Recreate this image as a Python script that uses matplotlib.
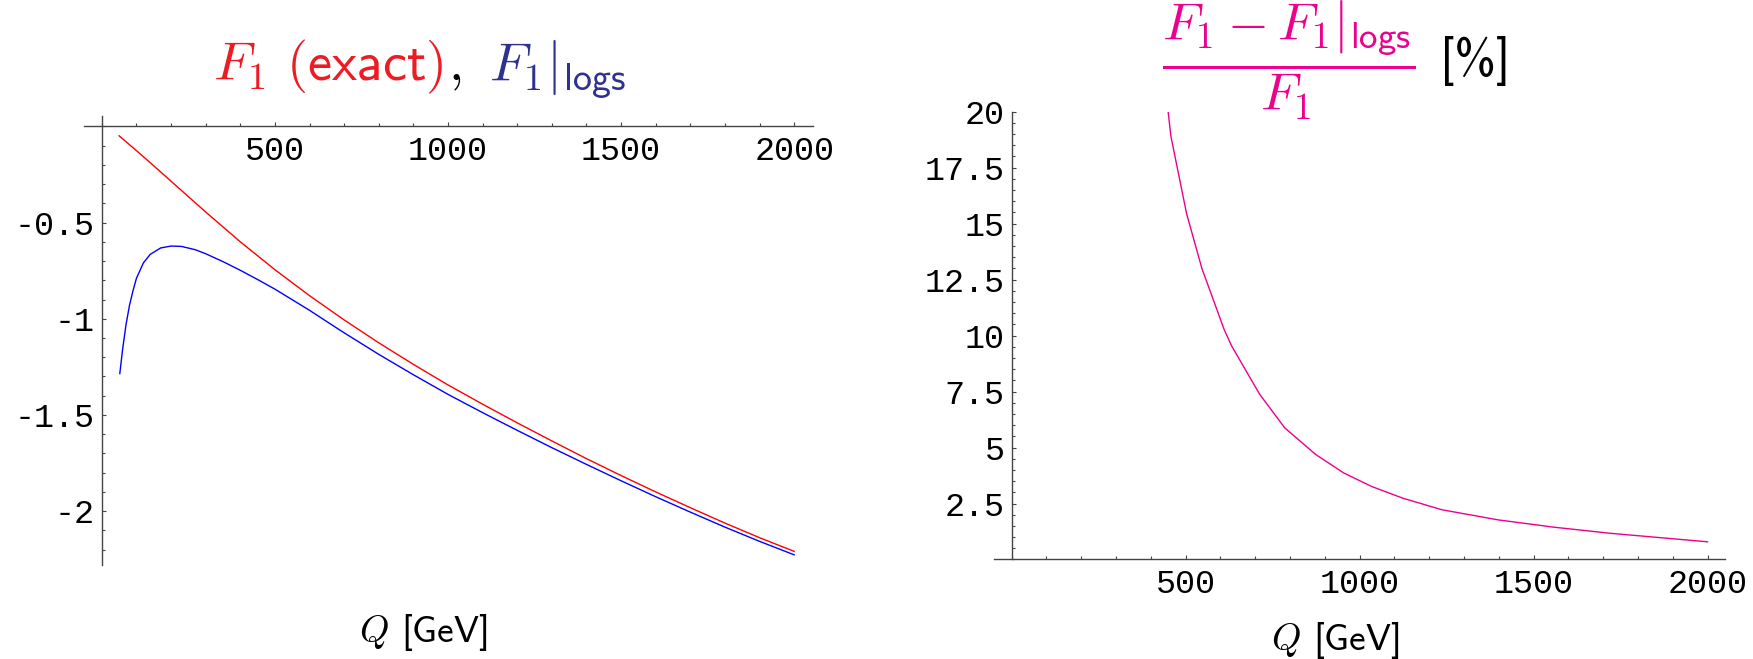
import matplotlib
matplotlib.use("Agg")
import matplotlib.pyplot as plt
from matplotlib.offsetbox import TextArea, HPacker, AnchoredOffsetbox
from matplotlib.ticker import MultipleLocator, FixedLocator, FixedFormatter

plt.rcParams['mathtext.fontset'] = 'cm'

# F1 exact (red) and F1|logs (blue)
q_exact = [50, 100, 150, 200, 300, 400, 500, 600, 700, 800, 900, 1000,
           1100, 1200, 1300, 1400, 1500, 1600, 1700, 1800, 1900, 2000]
f1_exact = [-0.049, -0.126, -0.205, -0.285, -0.445, -0.600, -0.745, -0.880,
            -1.006, -1.125, -1.237, -1.344, -1.444, -1.541, -1.635, -1.727,
            -1.815, -1.900, -1.982, -2.062, -2.138, -2.209]

q_logs = [52, 60, 70, 80, 90, 100, 120, 140, 170, 200, 230, 270, 300, 350,
          400, 450, 500, 600, 675, 700, 800, 900, 1000, 1100, 1200, 1300,
          1400, 1500, 1600, 1700, 1800, 1900, 2000]
f1_logs = [-1.285, -1.16, -1.03, -0.93, -0.855, -0.79, -0.71, -0.665, -0.632,
           -0.622, -0.624, -0.641, -0.662, -0.703, -0.748, -0.796, -0.846,
           -0.956, -1.044, -1.073, -1.185, -1.291, -1.393, -1.488, -1.580,
           -1.670, -1.757, -1.842, -1.925, -2.005, -2.083, -2.157, -2.227]

# relative difference in percent (magenta)
q_diff = [450, 458, 503, 547, 611, 632, 713, 785, 874, 955, 1035, 1124,
          1237, 1398, 1560, 1721, 2000]
diff_pct = [20.0, 18.9, 15.45, 13.0, 10.27, 9.55, 7.38, 5.88, 4.69, 3.86,
            3.26, 2.74, 2.22, 1.77, 1.44, 1.17, 0.79]

x_ticks = [500, 1000, 1500, 2000]
x_labels = ['500', '1000', '1500', '2000']
left_y_ticks = [-0.5, -1, -1.5, -2]
left_y_labels = ['-0.5', '-1', '-1.5', '-2']
right_y_ticks = [2.5, 5, 7.5, 10, 12.5, 15, 17.5, 20]
right_y_labels = ['2.5', '5', '7.5', '10', '12.5', '15', '17.5', '20']

red_title = '#ED1C24'
blue_title = '#2E3192'
magenta = '#EC008C'
axis_col = '#444444'


def style_axes(ax, y_ticks, y_labels, y_minor):
    # Mathematica-like axes crossing at the origin
    for side in ['top', 'right']:
        ax.spines[side].set_visible(False)
    for side in ['left', 'bottom']:
        ax.spines[side].set_position(('data', 0))
        ax.spines[side].set_color(axis_col)
        ax.spines[side].set_linewidth(1.0)
    ax.xaxis.set_major_locator(FixedLocator(x_ticks))
    ax.xaxis.set_major_formatter(FixedFormatter(x_labels))
    ax.xaxis.set_minor_locator(MultipleLocator(100))
    ax.yaxis.set_major_locator(FixedLocator(y_ticks))
    ax.yaxis.set_major_formatter(FixedFormatter(y_labels))
    ax.yaxis.set_minor_locator(MultipleLocator(y_minor))
    ax.tick_params(which='both', direction='in', color=axis_col, width=0.8,
                   labelsize=24, labelfontfamily='Liberation Mono')
    ax.tick_params(which='major', length=3.2)
    ax.tick_params(which='minor', length=2.2)
    ax.tick_params(axis='x', pad=7)
    ax.tick_params(axis='y', pad=5)


def q_label(ax, x, y):
    ax.set_xlabel(r'$Q$ [GeV]', fontsize=27, fontfamily='cmss10')
    ax.xaxis.label.set_verticalalignment('center')
    ax.xaxis.set_label_coords(x, y)


fig = plt.figure(figsize=(17.53, 6.59), dpi=100)
ax1 = fig.add_axes([0.0482, 0.1426, 0.4157, 0.6817])
ax2 = fig.add_axes([0.5671, 0.1510, 0.4169, 0.6795])

# left panel
ax1.plot(q_exact, f1_exact, color='#FF0000', lw=1.0)
ax1.plot(q_logs, f1_logs, color='#0000FF', lw=1.0)
ax1.set_xlim(-50, 2055)
ax1.set_ylim(-2.28, 0.055)
style_axes(ax1, left_y_ticks, left_y_labels, 0.1)
q_label(ax1, 0.4645, -0.151)

t_exact = TextArea(r'$F_1\ \mathsf{(exact)}$',
                   textprops=dict(color=red_title, fontsize=39))
t_comma = TextArea(r'$,$', textprops=dict(color='black', fontsize=39))
t_logs = TextArea(r'$F_1|_{\mathsf{logs}}$',
                  textprops=dict(color=blue_title, fontsize=39))
first = HPacker(children=[t_exact, t_comma], align='baseline', pad=0, sep=3)
title1 = HPacker(children=[first, t_logs], align='baseline', pad=0, sep=20)
ab1 = AnchoredOffsetbox(loc='center', child=title1, pad=0, borderpad=0,
                        frameon=False, bbox_to_anchor=(0.460, 1.104),
                        bbox_transform=ax1.transAxes)
ax1.add_artist(ab1)

# right panel
ax2.plot(q_diff, diff_pct, color=magenta, lw=1.0)
ax2.set_xlim(-50, 2050)
ax2.set_ylim(0, 20)
style_axes(ax2, right_y_ticks, right_y_labels, 0.5)
q_label(ax2, 0.4665, -0.18)

t_frac = TextArea(r'$\dfrac{F_1 - F_1|_{\mathsf{logs}}}{F_1}$',
                  textprops=dict(color=magenta, fontsize=38))
t_pct = TextArea('[%]', textprops=dict(color='black', fontsize=36,
                                       fontfamily='cmss10'))
title2 = HPacker(children=[t_frac, t_pct], align='center', pad=0, sep=18)
ab2 = AnchoredOffsetbox(loc='center', child=title2, pad=0, borderpad=0,
                        frameon=False, bbox_to_anchor=(0.468, 1.114),
                        bbox_transform=ax2.transAxes)
ax2.add_artist(ab2)

fig.savefig('out.png', dpi=100)
